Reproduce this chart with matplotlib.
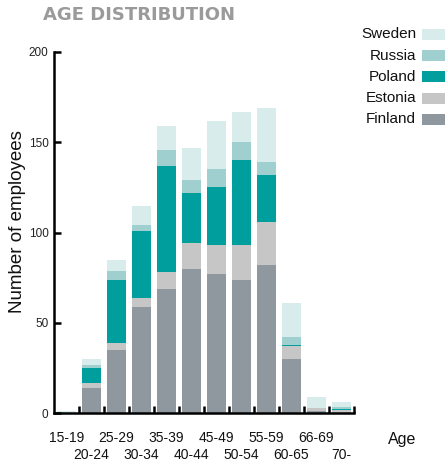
import numpy as np
import matplotlib
matplotlib.use("Agg")
import matplotlib.pyplot as plt
from matplotlib.patches import Rectangle

plt.rcParams['font.family'] = ['Liberation Sans', 'DejaVu Sans']

ages = ['15-19', '20-24', '25-29', '30-34', '35-39', '40-44',
        '45-49', '50-54', '55-59', '60-65', '66-69', '70-']
finland = [0, 14, 35, 59, 69, 80, 77, 74, 82, 30, 1, 0]
estonia = [0, 3, 4, 5, 9, 14, 16, 19, 24, 7, 2, 2]
poland = [0, 8, 35, 37, 59, 28, 32, 47, 26, 1, 0, 0.5]
russia = [0, 2, 5, 3, 9, 7, 10, 10, 7, 4, 0, 1]
sweden = [1, 3, 6, 11, 13, 18, 27, 17, 30, 19, 6, 2.5]

countries = ['Finland', 'Estonia', 'Poland', 'Russia', 'Sweden']
colors = ['#8e989e', '#c6c6c6', '#009e9c', '#9fcfcf', '#d9ecec']
series = [finland, estonia, poland, russia, sweden]

fig = plt.figure(figsize=(4.45, 4.65), dpi=100)
ax = fig.add_axes([0.1213, 0.1112, 0.674, 0.777])

x = np.arange(len(ages))
bottom = np.zeros(len(ages))
for vals, col in zip(series, colors):
    ax.bar(x, vals, width=0.77, bottom=bottom, color=col, linewidth=0)
    bottom += np.array(vals)

ax.set_xlim(-0.5, len(ages) - 0.5)
ax.set_ylim(0, 200)

for s in ['top', 'right']:
    ax.spines[s].set_visible(False)
for s in ['left', 'bottom']:
    ax.spines[s].set_linewidth(1.8)
    ax.spines[s].set_color('black')

ax.set_yticks([0, 50, 100, 150, 200])
ax.tick_params(axis='y', direction='in', length=5, width=1.8,
               labelsize=8.5, pad=4, colors='black', labelcolor='#222222')
ax.set_xticks(x[:-1] + 0.5)
ax.set_xticks([len(ages) - 0.5], minor=True)
ax.tick_params(axis='x', which='both', direction='in', length=5, width=1.8,
               labelbottom=False)

# staggered age group labels
for i, lab in enumerate(ages):
    off = -25 if i % 2 == 0 else -42
    ax.annotate(lab, xy=(i, 0), xycoords=('data', 'axes fraction'),
                xytext=(0, off), textcoords='offset pixels',
                ha='center', va='center', fontsize=10, color='#111111')
ax.annotate('Age', xy=(1, 0), xycoords='axes fraction',
            xytext=(48, -26), textcoords='offset pixels',
            ha='center', va='center', fontsize=11.5, color='#111111')

fig.text(18 / 445, 1 - 222 / 465, 'Number of employees', rotation=90,
         ha='center', va='center', fontsize=13.5, color='#111111')

fig.text(43 / 445, 1 - 15 / 465, 'AGE DISTRIBUTION', family='DejaVu Sans',
         fontweight='bold', fontsize=13, color='#9a9a9a',
         ha='left', va='center')

# legend, top entry first
for k, (name, col) in enumerate(zip(countries[::-1], colors[::-1])):
    yc = 34.5 + 21.2 * k
    fig.add_artist(Rectangle((422 / 445, 1 - (yc + 5.5) / 465), 23 / 445, 11 / 465,
                             transform=fig.transFigure, color=col, lw=0))
    fig.text(416 / 445, 1 - yc / 465, name, ha='right', va='center',
             fontsize=11, color='#111111')

fig.savefig('out.png', dpi=100)
